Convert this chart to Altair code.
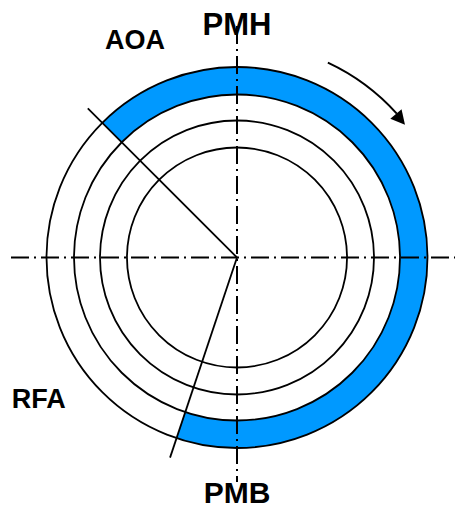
import math
import altair as alt
import pandas as pd

# ---- diagram values (pixel units, crank centre at 0,0) ----
ring_radii = [110, 137, 163, 190.5]
band_inner = 163
band_outer = 190.5
timing_names = ["AOA", "RFA"]
timing_angles = [-45, 198.5]          # degrees, clockwise from PMH
timing_length = 211
arrow_radius = 215
arrow_from = 25
arrow_to = 48
arrow_head_angle = 49.8
arrow_head_radius = 214

label_center_text = ["PMH", "PMB"]
label_center_x = [0, 0]
label_center_y = [222.5, -245.5]
label_center_size = [31, 30]

label_left_text = ["AOA", "RFA"]
label_left_x = [-132, -225.3]
label_left_y = [208.5, -150.5]
label_left_size = [27, 27]

axis_x1 = [-226, 0]
axis_x2 = [218, 0]
axis_y1 = [0, 231.5]
axis_y2 = [0, -224.5]

W, H = 447, 502
xs = alt.Scale(domain=[-229, 218], nice=False, zero=False)
ys = alt.Scale(domain=[-252.5, 249.5], nice=False, zero=False)
FONT = "Liberation Sans"


def deg(a):
    return a * math.pi / 180


XC = alt.X("cx:Q", scale=xs, axis=None)
YC = alt.Y("cy:Q", scale=ys, axis=None)

band_df = pd.DataFrame({"cx": [0], "cy": [0],
                        "t0": [deg(timing_angles[0])], "t1": [deg(timing_angles[1])],
                        "r0": [band_inner], "r1": [band_outer]})
band = alt.Chart(band_df).mark_arc(color="#0099FF", strokeWidth=0).encode(
    x=XC, y=YC,
    theta=alt.Theta("t0:Q", scale=None),
    theta2="t1:Q",
    radius=alt.Radius("r1:Q", scale=None),
    radius2="r0:Q",
)

n = len(ring_radii)
rings_df = pd.DataFrame({"cx": [0] * n, "cy": [0] * n, "r": ring_radii,
                         "t0": [0] * n, "t1": [2 * math.pi] * n})
rings = alt.Chart(rings_df).mark_arc(filled=False, stroke="black", strokeWidth=1.8).encode(
    x=XC, y=YC,
    theta=alt.Theta("t0:Q", scale=None),
    theta2="t1:Q",
    radius=alt.Radius("r:Q", scale=None),
)

m = len(timing_names)
timing_df = pd.DataFrame({"cx": [0] * m, "cy": [0] * m, "name": timing_names,
                          "angle": timing_angles, "length": [timing_length] * m})
timing = alt.Chart(timing_df).transform_calculate(
    xe="datum.length*sin(datum.angle*PI/180)",
    ye="datum.length*cos(datum.angle*PI/180)",
).mark_rule(color="black", strokeWidth=1.8).encode(
    x=XC, y=YC, x2="xe:Q", y2="ye:Q"
)

axes_df = pd.DataFrame({"x1": axis_x1, "x2": axis_x2, "y1": axis_y1, "y2": axis_y2})
axes = alt.Chart(axes_df).mark_rule(color="black", strokeWidth=2, strokeDash=[18, 5, 2, 5]).encode(
    x=alt.X("x1:Q", scale=xs, axis=None), x2="x2:Q",
    y=alt.Y("y1:Q", scale=ys, axis=None), y2="y2:Q",
)

arrow_df = pd.DataFrame({"cx": [0], "cy": [0], "t0": [deg(arrow_from)], "t1": [deg(arrow_to)],
                         "r": [arrow_radius]})
arrow = alt.Chart(arrow_df).mark_arc(filled=False, stroke="black", strokeWidth=2).encode(
    x=XC, y=YC,
    theta=alt.Theta("t0:Q", scale=None),
    theta2="t1:Q",
    radius=alt.Radius("r:Q", scale=None),
    radius2="r:Q",
)

head_df = pd.DataFrame({"a": [arrow_head_angle], "r": [arrow_head_radius]})
head = alt.Chart(head_df).transform_calculate(
    hx="datum.r*sin(datum.a*PI/180)",
    hy="datum.r*cos(datum.a*PI/180)",
).mark_point(shape="M0,-1L-1.05,1L1.05,1Z", size=196, filled=True, color="black",
             opacity=1, strokeWidth=0, angle=arrow_head_angle + 90).encode(
    x=alt.X("hx:Q", scale=xs, axis=None), y=alt.Y("hy:Q", scale=ys, axis=None)
)

lc_df = pd.DataFrame({"t": label_center_text, "x": label_center_x, "y": label_center_y,
                      "s": label_center_size})
lc = alt.Chart(lc_df).mark_text(font=FONT, fontWeight="bold", align="center",
                                baseline="alphabetic", color="black").encode(
    x=alt.X("x:Q", scale=xs, axis=None), y=alt.Y("y:Q", scale=ys, axis=None),
    text="t:N", size=alt.Size("s:Q", scale=None, legend=None),
)

ll_df = pd.DataFrame({"t": label_left_text, "x": label_left_x, "y": label_left_y,
                      "s": label_left_size})
ll = alt.Chart(ll_df).mark_text(font=FONT, fontWeight="bold", align="left",
                                baseline="alphabetic", color="black").encode(
    x=alt.X("x:Q", scale=xs, axis=None), y=alt.Y("y:Q", scale=ys, axis=None),
    text="t:N", size=alt.Size("s:Q", scale=None, legend=None),
)

chart = alt.layer(band, rings, timing, axes, arrow, head, lc, ll).properties(
    width=W, height=H, padding=0, autosize=alt.AutoSizeParams(type="none"),
    background="white",
).configure_view(strokeWidth=0)

chart.save("out.html", embed_options={"renderer": "svg", "actions": False})
